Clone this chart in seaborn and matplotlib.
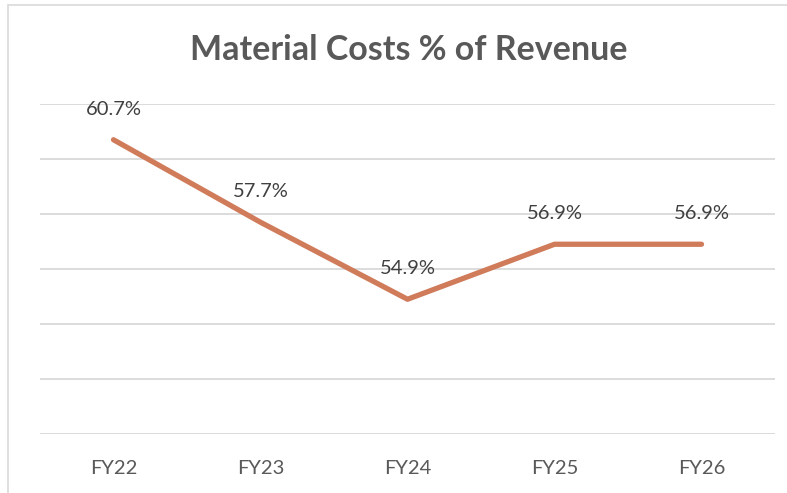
import pandas as pd
import matplotlib.pyplot as plt
import seaborn as sns
from matplotlib.patches import Rectangle

years = ["FY22", "FY23", "FY24", "FY25", "FY26"]
pct = [60.7, 57.7, 54.9, 56.9, 56.9]
labels = ["60.7%", "57.7%", "54.9%", "56.9%", "56.9%"]

df = pd.DataFrame({"year": years, "pct": pct})

sns.set_style("white")
plt.rcParams['font.family'] = ['Lato', 'DejaVu Sans']

fig = plt.figure(figsize=(7.87, 4.93), dpi=100)
ax = fig.add_axes([40 / 787, 1 - 434 / 493, 735 / 787, 330 / 493])

sns.lineplot(data=df, x="year", y="pct", ax=ax, color="#d07b5a", linewidth=3.8,
             sort=False, solid_capstyle="round")

for i, (v, t) in enumerate(zip(pct, labels)):
    ax.annotate(t, (i, v), xytext=(0, 22), textcoords="offset points",
                ha="center", va="center", fontsize=14.5, color="#404040")

ax.set_xlim(-0.5, 4.5)
ax.set_ylim(50, 62)
ax.set_yticks(range(50, 63, 2))
ax.yaxis.grid(True, color="#d9d9d9", linewidth=1.3)
ax.tick_params(axis="y", left=False, labelleft=False)
ax.tick_params(axis="x", length=0, labelsize=14.5, labelcolor="#595959", pad=19)
ax.set_xlabel("")
ax.set_ylabel("")
for s in ax.spines.values():
    s.set_visible(False)

fig.text(409 / 787, 1 - 50 / 493, "Material Costs % of Revenue", ha="center", va="center",
         fontsize=24.5, fontweight="bold", color="#595959")

# chart outer border (partly cropped)
fig.patches.append(Rectangle((8 / 787, -0.1), 1.0, 1 - 5 / 493 + 0.1, transform=fig.transFigure,
                             fill=False, edgecolor="#d9d9d9", linewidth=1.2))

fig.savefig("out.png", dpi=100)
